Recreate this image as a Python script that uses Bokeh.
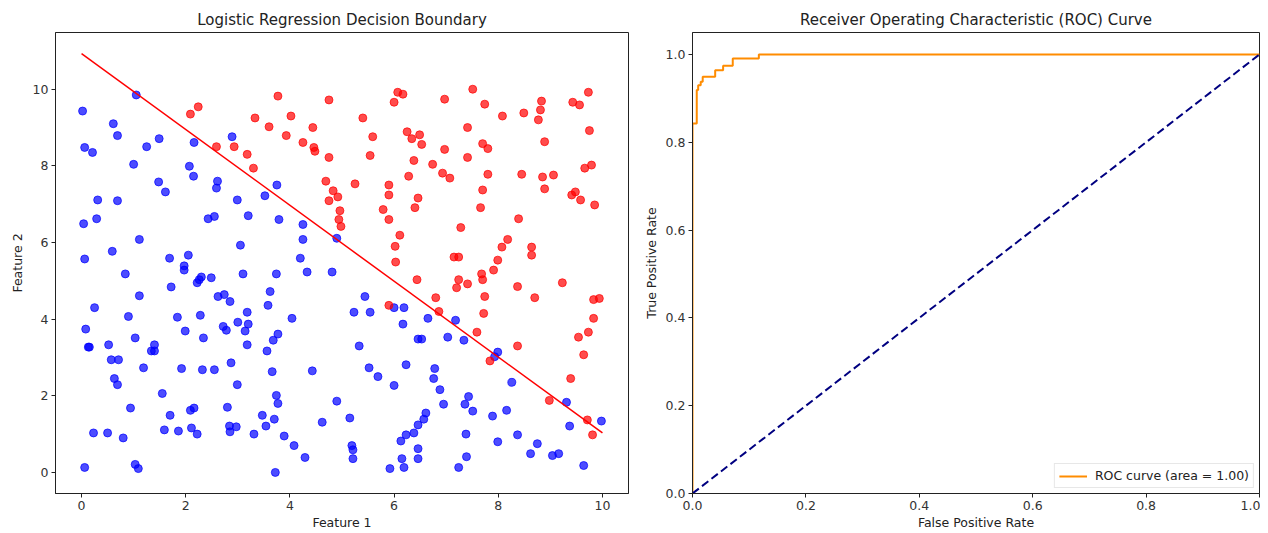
from bokeh.plotting import figure
from bokeh.layouts import row
from bokeh.models import Range1d, FixedTicker, PrintfTickFormatter, Legend, LegendItem
from bokeh.embed import file_html
from bokeh.resources import INLINE

# ---------------- data ----------------
blue_x = [1.05, 0.02, 0.61, 0.69, 1.49, 2.89, 0.06, 0.21, 1.25, 2.16, 1.0, 2.07, 2.15, 1.48, 1.61,
          2.61, 2.59, 0.31, 0.69, 2.99, 0.04, 0.29, 2.43, 2.55, 3.2, 1.11, 0.59, 3.05, 0.06, 1.69,
          2.05, 1.97, 0.84, 1.97, 1.72, 2.26, 2.3, 2.22, 2.49, 3.1, 1.11, 0.25, 2.62, 2.74, 2.85,
          0.9, 1.84, 2.28, 3.18, 0.08, 1.99, 2.72, 2.78, 3.0, 3.2, 3.14, 1.03, 2.34, 0.13, 0.15,
          0.52, 1.4, 1.34, 1.4, 3.18, 0.57, 0.71, 1.19, 1.92, 2.32, 2.55, 2.87, 0.63, 0.69, 2.99,
          1.55, 0.94, 1.7, 2.09, 2.16, 2.8, 0.23, 0.5, 0.8, 1.59, 1.86, 2.11, 2.22, 2.84, 2.97,
          2.85, 3.31, 0.06, 1.03, 1.09, 3.75, 3.52, 3.79, 4.25, 4.25, 4.2, 4.9, 3.74, 4.33, 4.81,
          3.62, 3.58, 4.04, 3.77, 3.68, 3.56, 3.66, 4.43, 3.74, 3.77, 3.47, 3.7, 3.54, 3.89, 4.08,
          4.29, 3.72, 4.9, 4.62, 5.15, 5.19, 5.21, 5.21, 5.44, 5.23, 5.54, 6.0, 6.19, 6.17, 5.33,
          5.52, 5.69, 6.0, 6.23, 6.46, 6.53, 6.65, 6.78, 6.76, 6.88, 6.95, 6.61, 6.57, 6.46, 6.38,
          6.23, 6.13, 6.46, 6.46, 6.15, 6.19, 5.92, 7.18, 7.03, 7.34, 7.99, 7.93, 8.26, 7.43, 7.36,
          7.51, 8.16, 7.89, 9.31, 9.37, 9.98, 7.38, 8.37, 7.99, 8.75, 8.62, 9.04, 9.16, 7.39, 7.24,
          9.64]
blue_y = [9.85, 9.43, 9.10, 8.79, 8.71, 8.76, 8.48, 8.35, 8.5, 8.61, 8.04, 7.99, 7.73, 7.58, 7.32,
          7.60, 7.42, 7.11, 7.09, 7.11, 6.49, 6.62, 6.62, 6.68, 6.7, 6.08, 5.77, 5.93, 5.57, 5.59,
          5.67, 5.39, 5.18, 5.28, 4.84, 5.03, 5.1, 4.95, 5.08, 5.18, 4.61, 4.30, 4.59, 4.64, 4.46,
          4.07, 4.05, 4.1, 4.18, 3.74, 3.69, 3.81, 3.71, 3.92, 3.87, 3.69, 3.51, 3.51, 3.27, 3.27,
          3.33, 3.33, 3.17, 3.17, 3.33, 2.94, 2.94, 2.73, 2.71, 2.68, 2.68, 2.86, 2.45, 2.29, 2.29,
          2.06, 1.68, 1.49, 1.62, 1.68, 1.70, 1.03, 1.03, 0.9, 1.11, 1.08, 1.16, 1.0, 1.21, 1.19,
          1.06, 1.0, 0.13, 0.21, 0.10, 7.50, 7.22, 6.6, 6.47, 6.08, 5.59, 6.11, 5.18, 5.23, 5.23,
          4.72, 4.36, 4.02, 3.61, 3.45, 3.17, 2.63, 2.65, 2.01, 1.80, 1.49, 1.39, 1.21, 0.95, 0.70,
          0.39, 0.0, 1.86, 1.31, 1.42, 0.70, 0.59, 0.36, 4.59, 4.18, 4.18, 4.30, 4.30, 3.87, 3.30,
          2.73, 2.5, 2.27, 2.81, 3.48, 3.48, 4.02, 2.71, 2.45, 2.16, 1.78, 1.55, 1.39, 1.24, 1.03,
          0.98, 0.82, 0.62, 0.36, 0.36, 0.13, 0.10, 3.97, 3.53, 3.45, 3.14, 3.02, 2.35, 1.98, 1.78,
          1.60, 1.62, 1.47, 1.83, 1.21, 1.34, 1.0, 0.98, 0.80, 0.75, 0.49, 0.44, 0.49, 0.41, 0.13,
          0.18]

red_x = [2.24, 2.09, 3.33, 2.59, 2.93, 3.18, 3.3, 3.77, 4.75, 6.07, 6.17, 6.0, 6.97, 4.02, 3.6,
         4.44, 5.4, 3.93, 4.25, 4.46, 4.48, 5.59, 6.25, 6.34, 6.49, 6.53, 6.97, 4.75, 5.54, 6.38,
         6.74, 6.93, 6.28, 4.69, 5.25, 5.9, 5.9, 4.83, 4.92, 4.75, 6.46, 6.4, 4.96, 5.79, 4.94,
         4.98, 5.9, 6.11, 6.02, 6.03, 7.51, 9.73, 7.74, 8.83, 8.81, 9.43, 9.56, 8.08, 8.49, 8.77,
         7.41, 9.75, 7.70, 7.80, 8.89, 7.41, 7.07, 7.80, 8.45, 8.85, 9.06, 9.66, 9.79, 7.70, 8.89,
         9.41, 9.48, 9.58, 9.85, 7.66, 8.39, 7.28, 8.18, 8.07, 8.64, 8.64, 7.15, 7.24, 7.99, 5.9,
         6.44, 6.80, 6.86, 7.91, 7.68, 7.70, 7.24, 7.20, 7.41, 8.37, 9.23, 7.74, 8.70, 9.83, 9.94,
         7.72, 9.83, 7.59, 9.73, 9.54, 8.37, 9.64, 7.84, 9.39, 8.98, 9.71, 9.81]
red_y = [9.54, 9.35, 9.25, 8.5, 8.5, 8.3, 7.94, 9.82, 9.72, 9.92, 9.87, 9.66, 9.74, 9.30, 9.02,
         9.0, 9.25, 8.79, 8.61, 8.48, 8.38, 8.76, 8.89, 8.71, 8.81, 8.56, 8.43, 8.22, 8.27, 8.14,
         8.04, 7.81, 7.73, 7.60, 7.53, 7.50, 7.24, 7.35, 7.19, 7.09, 7.16, 6.91, 6.83, 6.86, 6.60,
         6.42, 6.60, 6.19, 5.90, 5.49, 10.0, 9.92, 9.61, 9.69, 9.46, 9.66, 9.59, 9.30, 9.38, 9.2,
         9.0, 8.92, 8.58, 8.45, 8.63, 8.22, 7.68, 7.78, 7.78, 7.71, 7.76, 7.94, 8.02, 7.37, 7.40,
         7.24, 7.32, 7.11, 6.98, 6.91, 6.62, 6.39, 6.08, 5.88, 5.88, 5.67, 5.62, 5.62, 5.54, 4.36,
         5.03, 4.56, 4.20, 5.28, 5.18, 5.03, 5.03, 4.82, 4.92, 4.85, 4.95, 4.59, 4.56, 4.51, 4.54,
         4.15, 4.02, 3.66, 3.66, 3.53, 3.30, 3.07, 2.91, 2.45, 1.88, 1.37, 0.98]

boundary_intercept = 10.93
boundary_slope = -0.99
boundary_x = [0.0, 10.0]

fpr = [0.0, 0.0, 0.0075, 0.0075, 0.010, 0.010, 0.0145, 0.0145, 0.018, 0.018, 0.040, 0.040,
       0.054, 0.054, 0.071, 0.071, 0.117, 0.117, 1.0]
tpr = [0.0, 0.843, 0.843, 0.919, 0.919, 0.930, 0.930, 0.938, 0.938, 0.949, 0.949, 0.964,
       0.964, 0.974, 0.974, 0.991, 0.991, 1.0, 1.0]
roc_auc = 1.00
chance_x = [0.0, 1.0]
chance_y = [0.0, 1.0]

FONT = "DejaVu Sans"


def style(p):
    p.title.text_font = FONT
    p.title.text_font_size = "15px"
    p.title.text_font_style = "normal"
    p.title.align = "center"
    p.title.text_color = "#222222"
    p.title.standoff = 7
    p.xgrid.visible = False
    p.ygrid.visible = False
    p.outline_line_color = "#222222"
    p.outline_line_width = 1
    for ax in (p.xaxis[0], p.yaxis[0]):
        ax.axis_label_text_font = FONT
        ax.axis_label_text_font_size = "12.5px"
        ax.axis_label_text_font_style = "normal"
        ax.axis_label_text_color = "#222222"
        ax.major_label_text_font = FONT
        ax.major_label_text_font_size = "12.5px"
        ax.major_label_text_color = "#333333"
        ax.minor_tick_line_color = None
        ax.major_tick_in = 0
        ax.major_tick_out = 4
        ax.major_tick_line_color = "#222222"
        ax.axis_line_color = "#222222"
        ax.major_label_standoff = 3
        ax.axis_label_standoff = 2


# ---------------- left: decision boundary ----------------
p1 = figure(width=640, height=532, output_backend="svg", toolbar_location=None,
            title="Logistic Regression Decision Boundary",
            x_range=Range1d(-0.5, 10.5), y_range=Range1d(-0.55, 11.48),
            x_axis_label="Feature 1", y_axis_label="Feature 2",
            min_border_left=55, min_border_right=12, min_border_top=32, min_border_bottom=30)
style(p1)
p1.yaxis[0].axis_label_standoff = 5
p1.xaxis.ticker = FixedTicker(ticks=[0, 2, 4, 6, 8, 10])
p1.yaxis.ticker = FixedTicker(ticks=[0, 2, 4, 6, 8, 10])

p1.scatter(blue_x, blue_y, size=8, fill_color="blue", line_color="blue",
           fill_alpha=0.7, line_alpha=0.7)
p1.scatter(red_x, red_y, size=8, fill_color="red", line_color="red",
           fill_alpha=0.7, line_alpha=0.7)
boundary_y = [boundary_intercept + boundary_slope * v for v in boundary_x]
p1.line(boundary_x, boundary_y, line_color="red", line_width=1.5)

# ---------------- right: ROC ----------------
p2 = figure(width=620, height=532, output_backend="svg", toolbar_location=None,
            title="Receiver Operating Characteristic (ROC) Curve",
            x_range=Range1d(0.0, 1.0), y_range=Range1d(0.0, 1.05),
            x_axis_label="False Positive Rate", y_axis_label="True Positive Rate",
            min_border_left=47, min_border_right=1, min_border_top=32, min_border_bottom=30)
style(p2)
p2.yaxis[0].axis_label_standoff = 4
p2.xaxis.ticker = FixedTicker(ticks=[0.0, 0.2, 0.4, 0.6, 0.8, 1.0])
p2.yaxis.ticker = FixedTicker(ticks=[0.0, 0.2, 0.4, 0.6, 0.8, 1.0])
p2.xaxis.formatter = PrintfTickFormatter(format="%.1f")
p2.yaxis.formatter = PrintfTickFormatter(format="%.1f")

roc = p2.line(fpr, tpr, line_color="darkorange", line_width=2)
p2.line(chance_x, chance_y, line_color="navy", line_width=2, line_dash="8 4")

legend = Legend(items=[LegendItem(label="ROC curve (area = %0.2f)" % roc_auc, renderers=[roc])],
                location="bottom_right")
legend.label_text_font = FONT
legend.label_text_font_size = "12.5px"
legend.label_text_color = "#222222"
legend.border_line_color = "#d0d0d0"
legend.border_line_width = 1
legend.background_fill_alpha = 0.8
legend.margin = 5
legend.padding = 4
legend.spacing = 0
legend.glyph_width = 28
legend.label_standoff = 8
legend.label_height = 14
legend.glyph_height = 14
p2.add_layout(legend)

layout = row(p1, p2)
open("out.html", "w").write(file_html(layout, INLINE))
